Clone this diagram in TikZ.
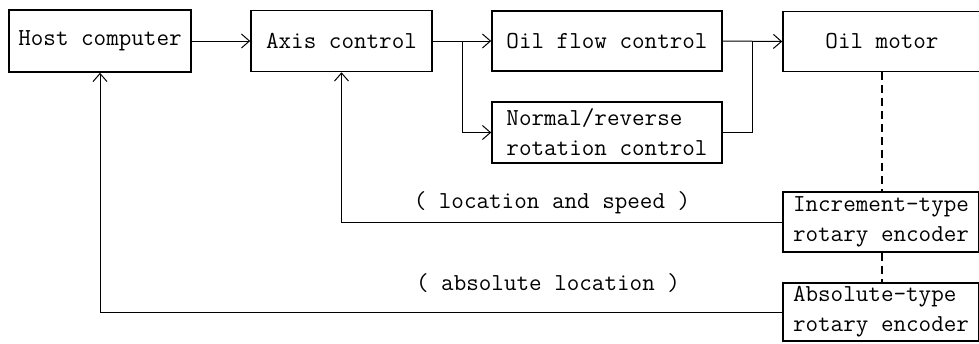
\documentclass[tikz,border=0pt]{standalone}
\usepackage{tikz}
\usetikzlibrary{arrows.meta,calc}

\begin{document}
\begin{tikzpicture}[
    x=0.5pt, y=-0.5pt,
    blk/.style={draw, line width=0.8pt, inner sep=0pt, align=left,
        font=\ttfamily\fontsize{12.2}{15}\selectfont},
    flow/.style={-{Straight Barb[length=4pt,width=7pt]}, line width=0.5pt},
    link/.style={line width=0.5pt},
    shaft/.style={line width=0.8pt, dash pattern=on 4pt off 2.5pt},
    lbl/.style={font=\ttfamily\fontsize{12.2}{15}\selectfont},
]
\useasboundingbox (0,0) rectangle (979,343);
\clip (0,0) rectangle (979,343);
% top row
\node[blk, minimum width=91pt, minimum height=31pt] (host) at (100,41) {Host computer};
\node[blk, minimum width=90.5pt, minimum height=30.5pt] (axis) at (341.5,41) {Axis control};
\node[blk, minimum width=115pt, minimum height=30pt] (oil) at (607,41) {Oil flow control};
\node[blk, minimum width=115pt, minimum height=30.5pt] (dir) at (607,132.5) {Normal/reverse\\rotation control};
\node[blk, minimum width=99pt, minimum height=30pt] (motor) at (882,41.5) {Oil motor};
% encoders
\node[blk, minimum width=98pt, minimum height=30pt] (inc) at (881,222) {Increment-type\\rotary encoder};
\node[blk, minimum width=98pt, minimum height=29pt] (abs) at (881,312) {Absolute-type\\rotary encoder};
% labels
\node[lbl] (spd) at (552,203) {( location and speed )};
\node[lbl] (loc) at (548,283) {( absolute location )};
% forward path
\coordinate (split) at ($(axis.east)!0.5!(oil.west)$);
\coordinate (join) at ($(oil.east)!0.5!(motor.west)$);
\draw[flow] (host.east) -- (axis.west);
\draw[flow] (axis.east) -- (oil.west);
\draw[flow] (split) |- (dir.west);
\draw[flow] (oil.east) -- (motor.west);
\draw[link] (dir.east) -| (join);
% feedback
\draw[flow] (inc.west) -| (axis.south);
\draw[flow] (abs.west) -| (host.south);
\draw[shaft] (motor.south) -- (motor.south |- inc.north);
\draw[shaft] (motor.south |- inc.south) -- (motor.south |- abs.north);
\end{tikzpicture}
\end{document}
